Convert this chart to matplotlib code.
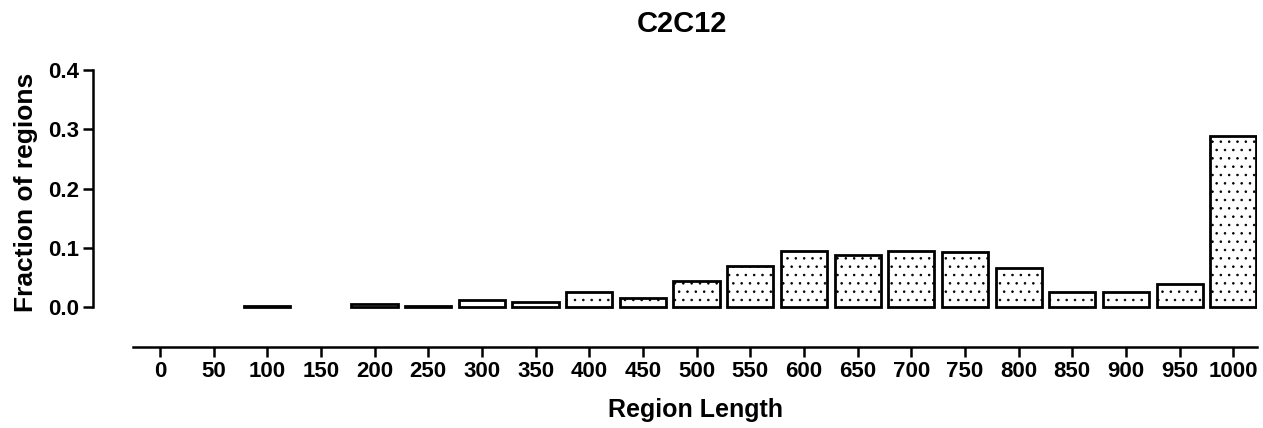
import matplotlib.pyplot as plt

plt.rcParams["font.family"] = ["Liberation Sans", "DejaVu Sans"]
plt.rcParams["font.weight"] = "bold"
plt.rcParams["hatch.linewidth"] = 0.6

# bin centres and fraction of regions
lengths = [0, 50, 100, 150, 200, 250, 300, 350, 400, 450, 500,
           550, 600, 650, 700, 750, 800, 850, 900, 950, 1000]
fractions = [0.0, 0.0, 0.001, 0.0, 0.005, 0.002, 0.012, 0.008, 0.026, 0.015,
             0.044, 0.070, 0.095, 0.088, 0.095, 0.092, 0.065, 0.026, 0.026,
             0.038, 0.288]

fig = plt.figure(figsize=(12.63, 4.28), dpi=100)
ax = fig.add_axes([0.1053, 0.1893, 0.8899, 0.6471])

# empty bins are not drawn at all in the original
shown = [(x, f) for x, f in zip(lengths, fractions) if f > 0]
ax.bar([s[0] for s in shown], [s[1] for s in shown], width=43,
       color="white", edgecolor="black", linewidth=2.0, hatch="..", zorder=2)

ax.set_xlim(-25, 1022)
ax.set_ylim(-0.0675, 0.4)
ax.set_xticks(lengths)
ax.set_yticks([0.0, 0.1, 0.2, 0.3, 0.4])
ax.set_yticklabels(["0.0", "0.1", "0.2", "0.3", "0.4"])

for side in ["top", "right"]:
    ax.spines[side].set_visible(False)
ax.spines["left"].set_bounds(0, 0.4)
ax.spines["left"].set_position(("outward", 29))
ax.spines["left"].set_linewidth(1.8)
ax.spines["bottom"].set_linewidth(1.8)

ax.tick_params(axis="both", length=7, width=1.8, labelsize=16, pad=3)

fig.text(682 / 1263, 1 - 32 / 428, "C2C12", fontsize=21, fontweight="bold",
         ha="center", va="baseline")
fig.text(695 / 1263, 11 / 428, "Region Length", fontsize=18,
         fontweight="bold", ha="center", va="baseline")
fig.text(26 / 1263, 0.550, "Fraction of regions", fontsize=19,
         fontweight="bold", rotation=90, ha="center", va="center")

fig.savefig("out.png", dpi=100)
